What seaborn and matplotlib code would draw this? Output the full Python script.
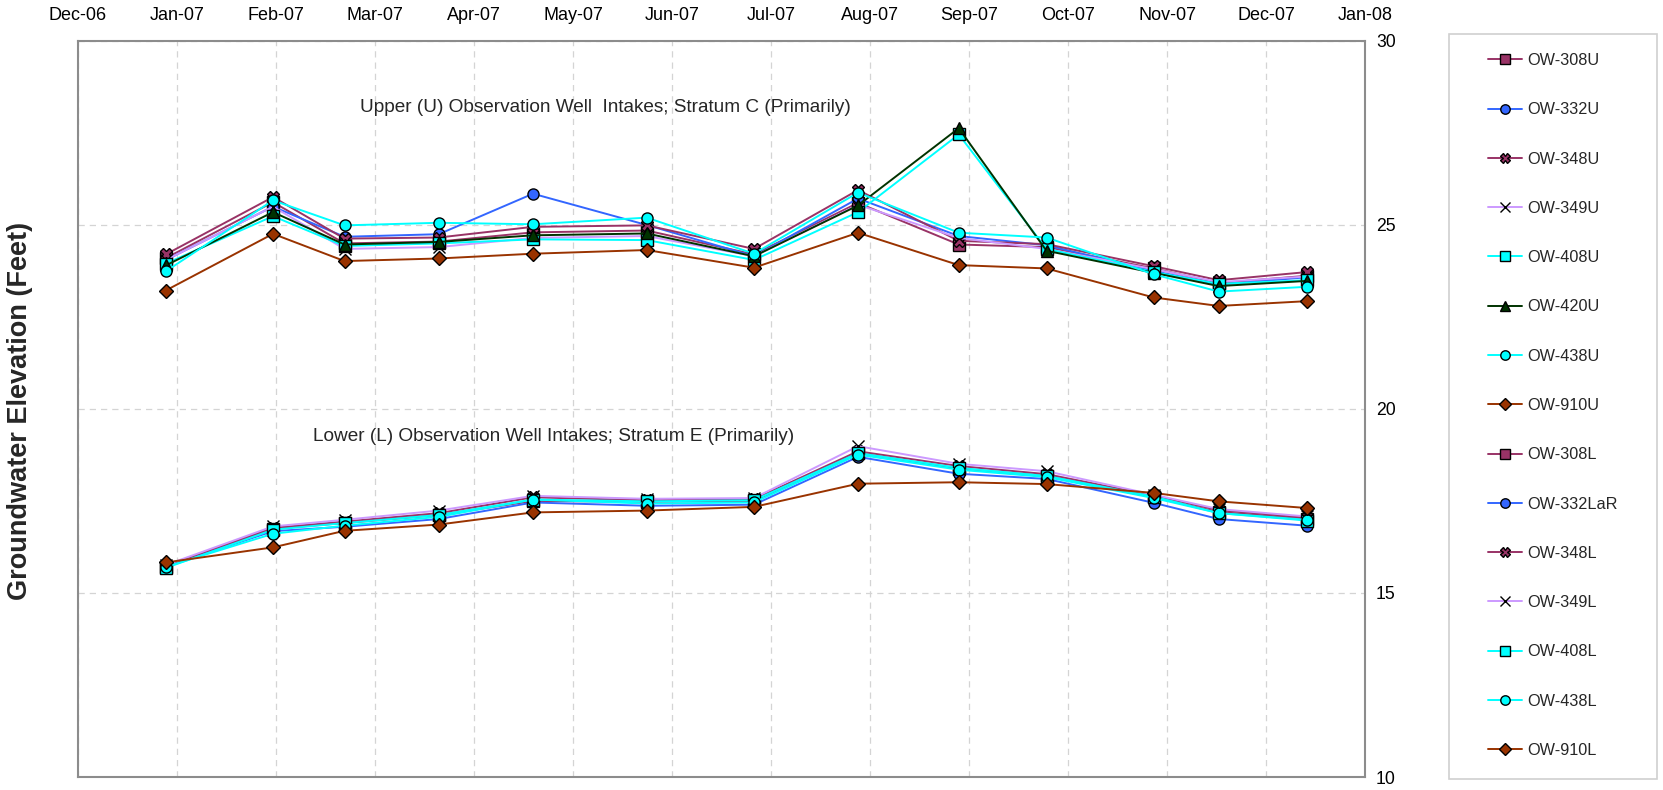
import numpy as np
import pandas as pd
import matplotlib
matplotlib.use("Agg")
import matplotlib.pyplot as plt
import seaborn as sns
from matplotlib.patches import Rectangle

# -----------------------------
# DATA
# -----------------------------
sample_dates = pd.to_datetime([
    "2006-12-28", "2007-01-30", "2007-02-21", "2007-03-22", "2007-04-20",
    "2007-05-25", "2007-06-27", "2007-07-29", "2007-08-29", "2007-09-25",
    "2007-10-28", "2007-11-17", "2007-12-14",
])
tick_labels = ["Dec-06", "Jan-07", "Feb-07", "Mar-07", "Apr-07", "May-07", "Jun-07",
               "Jul-07", "Aug-07", "Sep-07", "Oct-07", "Nov-07", "Dec-07", "Jan-08"]
x_start = pd.Timestamp("2006-12-01")
x_end = pd.Timestamp("2008-01-01")

# upper intakes (stratum C)
ow308u = [24.10, 25.62, 24.50, 24.55, 24.80, 24.85, 24.20, 25.60, 24.47, 24.40, 23.82, 23.42, 23.62]
ow332u = [24.05, 25.50, 24.68, 24.75, 25.85, 25.00, 24.15, 25.72, 24.70, 24.45, 23.75, 23.38, 23.58]
ow348u = [24.20, 25.76, 24.63, 24.66, 24.95, 24.99, 24.35, 25.95, 24.57, 24.48, 23.88, 23.50, 23.72]
ow349u = [24.05, 25.50, 24.35, 24.40, 24.65, 24.70, 24.15, 25.55, 24.65, 24.35, 23.80, 23.45, 23.60]
ow408u = [23.95, 25.24, 24.43, 24.50, 24.61, 24.59, 24.05, 25.35, 27.46, 24.35, 23.72, 23.40, 23.50]
ow420u = [23.90, 25.35, 24.47, 24.54, 24.72, 24.77, 24.15, 25.53, 27.63, 24.30, 23.70, 23.34, 23.48]
ow438u = [23.74, 25.67, 24.99, 25.06, 25.02, 25.20, 24.22, 25.88, 24.79, 24.66, 23.66, 23.19, 23.32]
ow910u = [23.22, 24.76, 24.02, 24.09, 24.22, 24.32, 23.84, 24.79, 23.91, 23.82, 23.03, 22.80, 22.93]

# lower intakes (stratum E)
ow308l = [15.72, 16.75, 16.90, 17.12, 17.50, 17.48, 17.50, 18.80, 18.38, 18.18, 17.60, 17.20, 17.02]
ow332l = [15.72, 16.68, 16.80, 17.01, 17.46, 17.37, 17.40, 18.70, 18.24, 18.10, 17.45, 17.01, 16.83]
ow348l = [15.74, 16.77, 16.94, 17.17, 17.60, 17.52, 17.55, 18.85, 18.45, 18.23, 17.65, 17.25, 17.05]
ow349l = [15.76, 16.81, 16.99, 17.24, 17.64, 17.56, 17.58, 18.99, 18.51, 18.31, 17.67, 17.28, 17.08]
ow408l = [15.68, 16.72, 16.90, 17.12, 17.54, 17.49, 17.52, 18.80, 18.40, 18.18, 17.62, 17.17, 16.97]
ow438l = [15.71, 16.61, 16.83, 17.07, 17.54, 17.43, 17.46, 18.76, 18.35, 18.15, 17.58, 17.17, 16.99]
ow910l = [15.83, 16.24, 16.69, 16.86, 17.19, 17.24, 17.34, 17.97, 18.01, 17.96, 17.72, 17.49, 17.31]

series_names = ["OW-308U", "OW-332U", "OW-348U", "OW-349U", "OW-408U", "OW-420U", "OW-438U", "OW-910U",
                "OW-308L", "OW-332LaR", "OW-348L", "OW-349L", "OW-408L", "OW-438L", "OW-910L"]
series_values = [ow308u, ow332u, ow348u, ow349u, ow408u, ow420u, ow438u, ow910u,
                 ow308l, ow332l, ow348l, ow349l, ow408l, ow438l, ow910l]

# -----------------------------
# STYLES (line colour, marker, marker face)
# -----------------------------
styles = {
    "308": ("#993366", "s", "#993366"),
    "332": ("#3366FF", "o", "#3366FF"),
    "348": ("#993366", "X", "#993366"),
    "349": ("#CC99FF", "x", "#000000"),
    "408": ("#00FFFF", "s", "#00FFFF"),
    "420": ("#003300", "^", "#003300"),
    "438": ("#00FFFF", "o", "#00FFFF"),
    "910": ("#993300", "D", "#993300"),
}

sns.set_theme(style="white")
plt.rcParams["font.family"] = ["Liberation Sans", "DejaVu Sans"]

W, H = 1663, 790
fig = plt.figure(figsize=(W / 100, H / 100), dpi=100)
ax = fig.add_axes([78 / W, 13 / H, 1287 / W, 736 / H])

for name, vals in zip(series_names, series_values):
    color, marker, face = styles[name[3:6]]
    ms = 7 if marker == "D" else 8
    sns.lineplot(x=sample_dates, y=vals, ax=ax, color=color, linewidth=1.4,
                 marker=marker, markersize=ms, markerfacecolor=face,
                 markeredgecolor="black", markeredgewidth=1.0,
                 label=name, legend=False)

# -----------------------------
# AXES
# -----------------------------
ax.set_xlim(x_start, x_end)
ax.set_ylim(10, 30)
xticks = pd.to_datetime(np.linspace(x_start.value, x_end.value, len(tick_labels)))
ax.set_xticks(xticks)
ax.set_xticklabels(tick_labels)
ax.xaxis.tick_top()
ax.yaxis.tick_right()
ax.set_yticks([10, 15, 20, 25, 30])
ax.tick_params(axis="x", length=0, pad=12, labelsize=13, colors="black")
ax.tick_params(axis="y", length=0, pad=8, labelsize=12.7, colors="black")
ax.set_xlabel("")
ax.set_ylabel("")

ax.grid(True, linestyle=(0, (5, 4)), color="#D4D4D4", linewidth=0.9)
for sp in ax.spines.values():
    sp.set_color("#8C8C8C")
    sp.set_linewidth(1.5)

ax.text(0.219, 0.909, "Upper (U) Observation Well  Intakes; Stratum C (Primarily)",
        transform=ax.transAxes, fontsize=13.7, va="center", ha="left")
ax.text(0.1826, 0.462, "Lower (L) Observation Well Intakes; Stratum E (Primarily)",
        transform=ax.transAxes, fontsize=13.7, va="center", ha="left")

fig.text(20 / W, 0.480, "Groundwater Elevation (Feet)", rotation=90,
         fontsize=19.5, fontweight="bold", va="center", ha="center")

# -----------------------------
# LEGEND
# -----------------------------
handles, labels = ax.get_legend_handles_labels()
if ax.get_legend() is not None:
    ax.get_legend().remove()

fig.patches.append(Rectangle((1449 / W, 1 - 779 / H), 208 / W, 745 / H,
                             transform=fig.transFigure, facecolor="white",
                             edgecolor="#D0D0D0", linewidth=1.2))
fig.legend(handles, labels, loc="upper left", bbox_to_anchor=(1488 / W, 1 - 53 / H),
           frameon=False, fontsize=11.7, labelspacing=2.11, handlelength=2.1,
           handletextpad=0.3, borderpad=0, borderaxespad=0, markerscale=0.85)

fig.savefig("out.png", dpi=100, facecolor="white")
